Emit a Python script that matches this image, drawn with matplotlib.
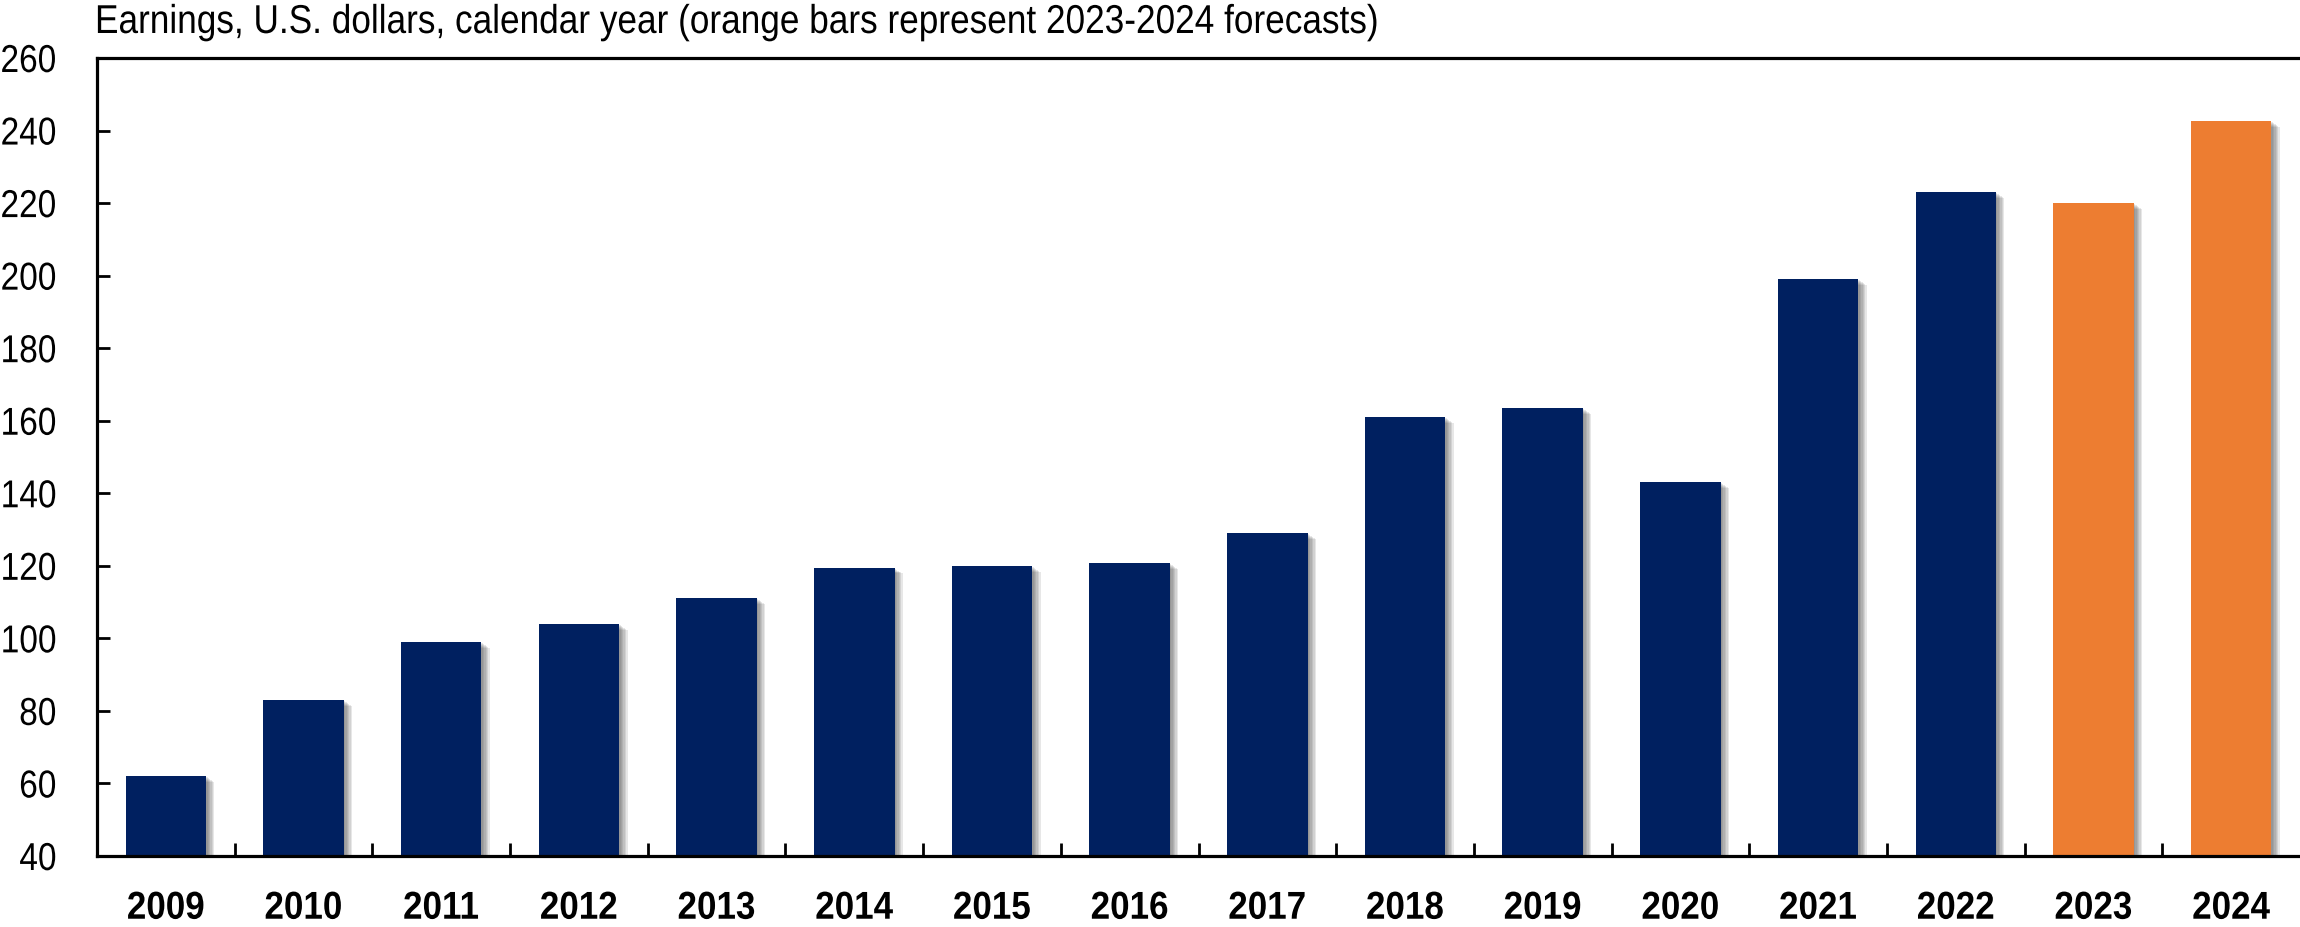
import numpy as np
import matplotlib
matplotlib.use("Agg")
import matplotlib.pyplot as plt
import matplotlib.patheffects as pe
from matplotlib.transforms import Affine2D
from matplotlib.ticker import MultipleLocator, FixedLocator

years = ['2009', '2010', '2011', '2012', '2013', '2014', '2015', '2016',
         '2017', '2018', '2019', '2020', '2021', '2022', '2023', '2024']
earnings = [62, 83, 99, 104, 111, 119.5, 120, 120.7,
            129, 161, 163.5, 143, 199, 223, 220, 242.5]
forecast_years = ['2023', '2024']

NAVY = '#002060'
ORANGE = '#ED7D31'

plt.rcParams['font.family'] = ['Liberation Sans', 'DejaVu Sans']


class Narrow(pe.AbstractPathEffect):
    """Squeeze text horizontally to fake a condensed face."""

    def __init__(self, sx, anchor='center'):
        super().__init__()
        self.sx = sx
        self.anchor = anchor

    def draw_path(self, renderer, gc, tpath, affine, rgbFace=None):
        v = affine.transform(tpath.vertices)
        if len(v) == 0:
            return
        if self.anchor == 'left':
            ref = v[:, 0].min()
        elif self.anchor == 'right':
            ref = v[:, 0].max()
        else:
            ref = (v[:, 0].min() + v[:, 0].max()) / 2
        squeeze = Affine2D().translate(-ref, 0).scale(self.sx, 1).translate(ref, 0)
        renderer.draw_path(gc, tpath, affine + squeeze, rgbFace)


fig = plt.figure(figsize=(23, 9.27), dpi=100)
ax = fig.add_axes([97 / 2300, 71 / 927, 2203 / 2300, 798 / 927])

x = np.arange(len(years))
colors = [ORANGE if y in forecast_years else NAVY for y in years]

# soft drop shadow: several offset copies stacked with low alpha
shadow = [pe.SimplePatchShadow(offset=(d, -d * 0.7), shadow_rgbFace='#404040', alpha=0.12)
          for d in (1, 2, 3, 4, 5, 6)]
bars = ax.bar(x, earnings, width=0.585, color=colors, zorder=2)
for b in bars:
    b.set_path_effects(shadow + [pe.Normal()])

ax.set_xlim(-0.5, len(years) - 0.5)
ax.set_ylim(40, 260)
ax.yaxis.set_major_locator(MultipleLocator(20))

ax.set_xticks(x)
ax.set_xticklabels(years, fontsize=28, fontweight='bold')
ax.xaxis.set_minor_locator(FixedLocator(np.arange(0.5, len(years) - 1, 1.0)))
ax.tick_params(axis='x', which='major', length=0, pad=25)
ax.tick_params(axis='x', which='minor', direction='in', length=9.5, width=2)
ax.tick_params(axis='y', direction='in', length=9.5, width=2, labelsize=28, pad=29)

for lbl in ax.get_xticklabels():
    lbl.set_path_effects([Narrow(0.9, 'center')])
for lbl in ax.get_yticklabels():
    lbl.set_path_effects([Narrow(0.86, 'right')])

for side in ['left', 'top', 'bottom']:
    ax.spines[side].set_linewidth(2.3)
ax.spines['right'].set_visible(False)

title = fig.text(95 / 2300, 1 - 3 / 927,
                 'Earnings, U.S. dollars, calendar year (orange bars represent 2023-2024 forecasts)',
                 fontsize=29, ha='left', va='top')
title.set_path_effects([Narrow(0.874, 'left')])

fig.savefig('out.png', dpi=100)
